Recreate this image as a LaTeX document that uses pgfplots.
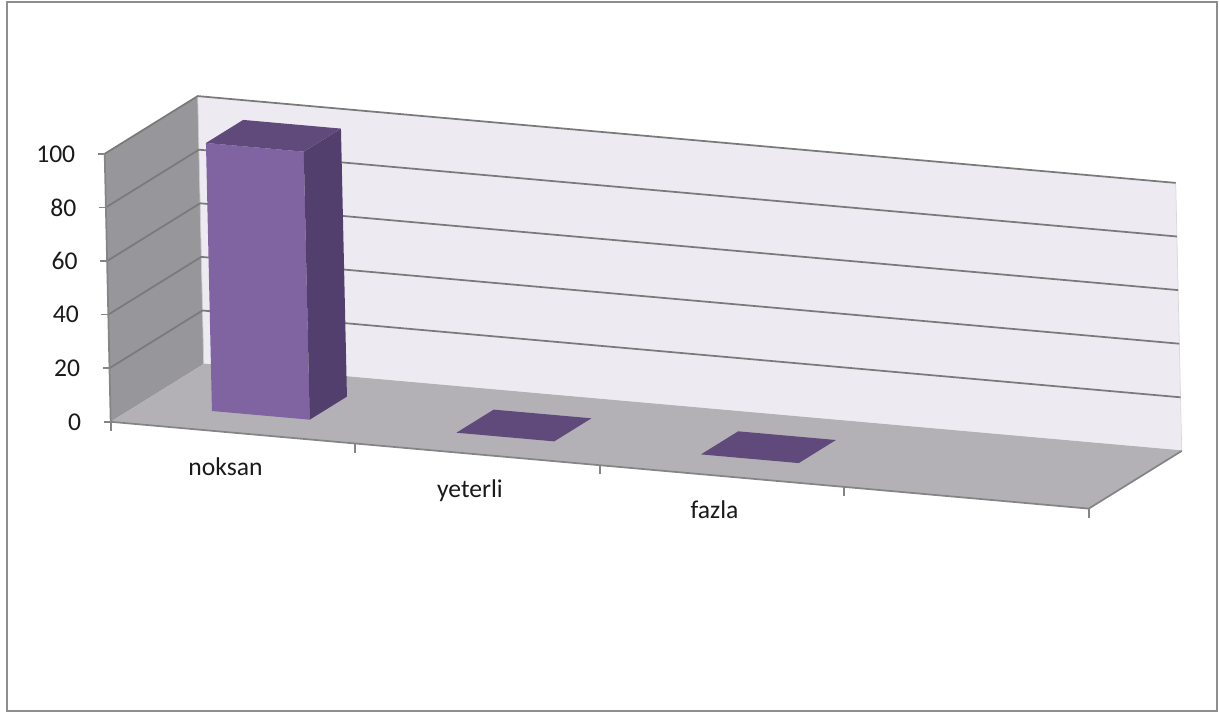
\documentclass[border=0pt]{standalone}
\usepackage{pgfplots}
\pgfplotsset{compat=1.18}
\usepackage{fontspec}
\setmainfont{Carlito}
\definecolor{leftwall}{HTML}{97969A}
\definecolor{backwall}{HTML}{EDEBF1}
\definecolor{floorc}{HTML}{B3B1B6}
\definecolor{gridc}{HTML}{7A7A7A}
\definecolor{edgec}{HTML}{858585}
\definecolor{barfront}{HTML}{8064A2}
\definecolor{barside}{HTML}{523F6E}
\definecolor{bartop}{HTML}{604A7B}
\definecolor{framec}{HTML}{8E8E8E}
\definecolor{textc}{HTML}{1A1A1A}
\begin{document}
\begin{tikzpicture}[font=\fontsize{10.24}{12}\selectfont]
\begin{axis}[
  x={(97.8pt,-8.68pt)}, y={(37.2pt,23.08pt)}, z={(-0.024pt,1.072pt)},
  xmin=0, xmax=4, ymin=0, ymax=1, zmin=0, zmax=100,
  hide axis, clip=false, no marks,
]
% walls and floor
\fill[backwall] (axis cs:0,1,0) -- (axis cs:4,1,0) -- (axis cs:4,1,100) -- (axis cs:0,1,100) -- cycle;
\fill[leftwall] (axis cs:0,0,0) -- (axis cs:0,1,0) -- (axis cs:0,1,100) -- (axis cs:0,0,100) -- cycle;
\fill[floorc] (axis cs:0,0,0) -- (axis cs:4,0,0) -- (axis cs:4,1,0) -- (axis cs:0,1,0) -- cycle;
\draw[gray!40, line width=0.3pt] (axis cs:0,1,0) -- (axis cs:0,1,100);
\draw[gray!30, line width=0.3pt] (axis cs:4,1,0) -- (axis cs:4,1,100);
\draw[gray!60, line width=0.4pt] (axis cs:0,1,0) -- (axis cs:4,1,0);
% grid lines
\pgfplotsinvokeforeach{20,40,60,80,100}{
  \draw[gridc, line width=0.7pt] (axis cs:0,0,#1) -- (axis cs:0,1,#1) -- (axis cs:4,1,#1);
}
% axis edges
\draw[edgec, line width=0.7pt] (axis cs:0,0,100) -- (axis cs:0,0,0) -- (axis cs:4,0,0) -- (axis cs:4,1,0);
% value ticks and labels
\pgfplotsinvokeforeach{0,20,40,60,80,100}{
  \draw[edgec, line width=0.7pt] (axis cs:0,0,#1) -- ++(-2.8pt,0);
  \node[anchor=east, inner sep=0pt, text=textc] at ([xshift=-11.6pt]axis cs:0,0,#1) {#1};
}
% category ticks
\pgfplotsinvokeforeach{0,1,2,3,4}{
  \draw[edgec, line width=0.7pt] (axis cs:#1,0,0) -- ++(0,-3.6pt);
}
\node[anchor=north, inner sep=0pt, text=textc] at ([xshift=-3pt,yshift=-9.8pt]axis cs:0.5,0,0) {noksan};
\node[anchor=north, inner sep=0pt, text=textc] at ([xshift=-3pt,yshift=-9.8pt]axis cs:1.5,0,0) {yeterli};
\node[anchor=north, inner sep=0pt, text=textc] at ([xshift=-3pt,yshift=-9.8pt]axis cs:2.5,0,0) {fazla};
% bars: noksan = 100
\addplot3[fill=barfront, draw=none] coordinates {(0.3,0.3,0) (0.7,0.3,0) (0.7,0.3,100) (0.3,0.3,100)} -- cycle;
\addplot3[fill=barside, draw=none] coordinates {(0.7,0.3,0) (0.7,0.7,0) (0.7,0.7,100) (0.7,0.3,100)} -- cycle;
\addplot3[fill=bartop, draw=none] coordinates {(0.3,0.3,100) (0.7,0.3,100) (0.7,0.7,100) (0.3,0.7,100)} -- cycle;
% yeterli = 0
\addplot3[fill=bartop, draw=none] coordinates {(1.3,0.3,0) (1.7,0.3,0) (1.7,0.7,0) (1.3,0.7,0)} -- cycle;
% fazla = 0
\addplot3[fill=bartop, draw=none] coordinates {(2.3,0.3,0) (2.7,0.3,0) (2.7,0.7,0) (2.3,0.7,0)} -- cycle;
\coordinate (O) at (axis cs:0,0,0);
\end{axis}
\pgfresetboundingbox
\path[use as bounding box] ([shift={(-110.7*0.4pt,421.8*0.4pt)}]O) coordinate (TL) rectangle ++(1219*0.4pt,-713*0.4pt);
\draw[framec, line width=1pt] ([shift={(7*0.4pt,-2*0.4pt)}]TL) rectangle ([shift={(1217*0.4pt,-711*0.4pt)}]TL);
\end{tikzpicture}
\end{document}
